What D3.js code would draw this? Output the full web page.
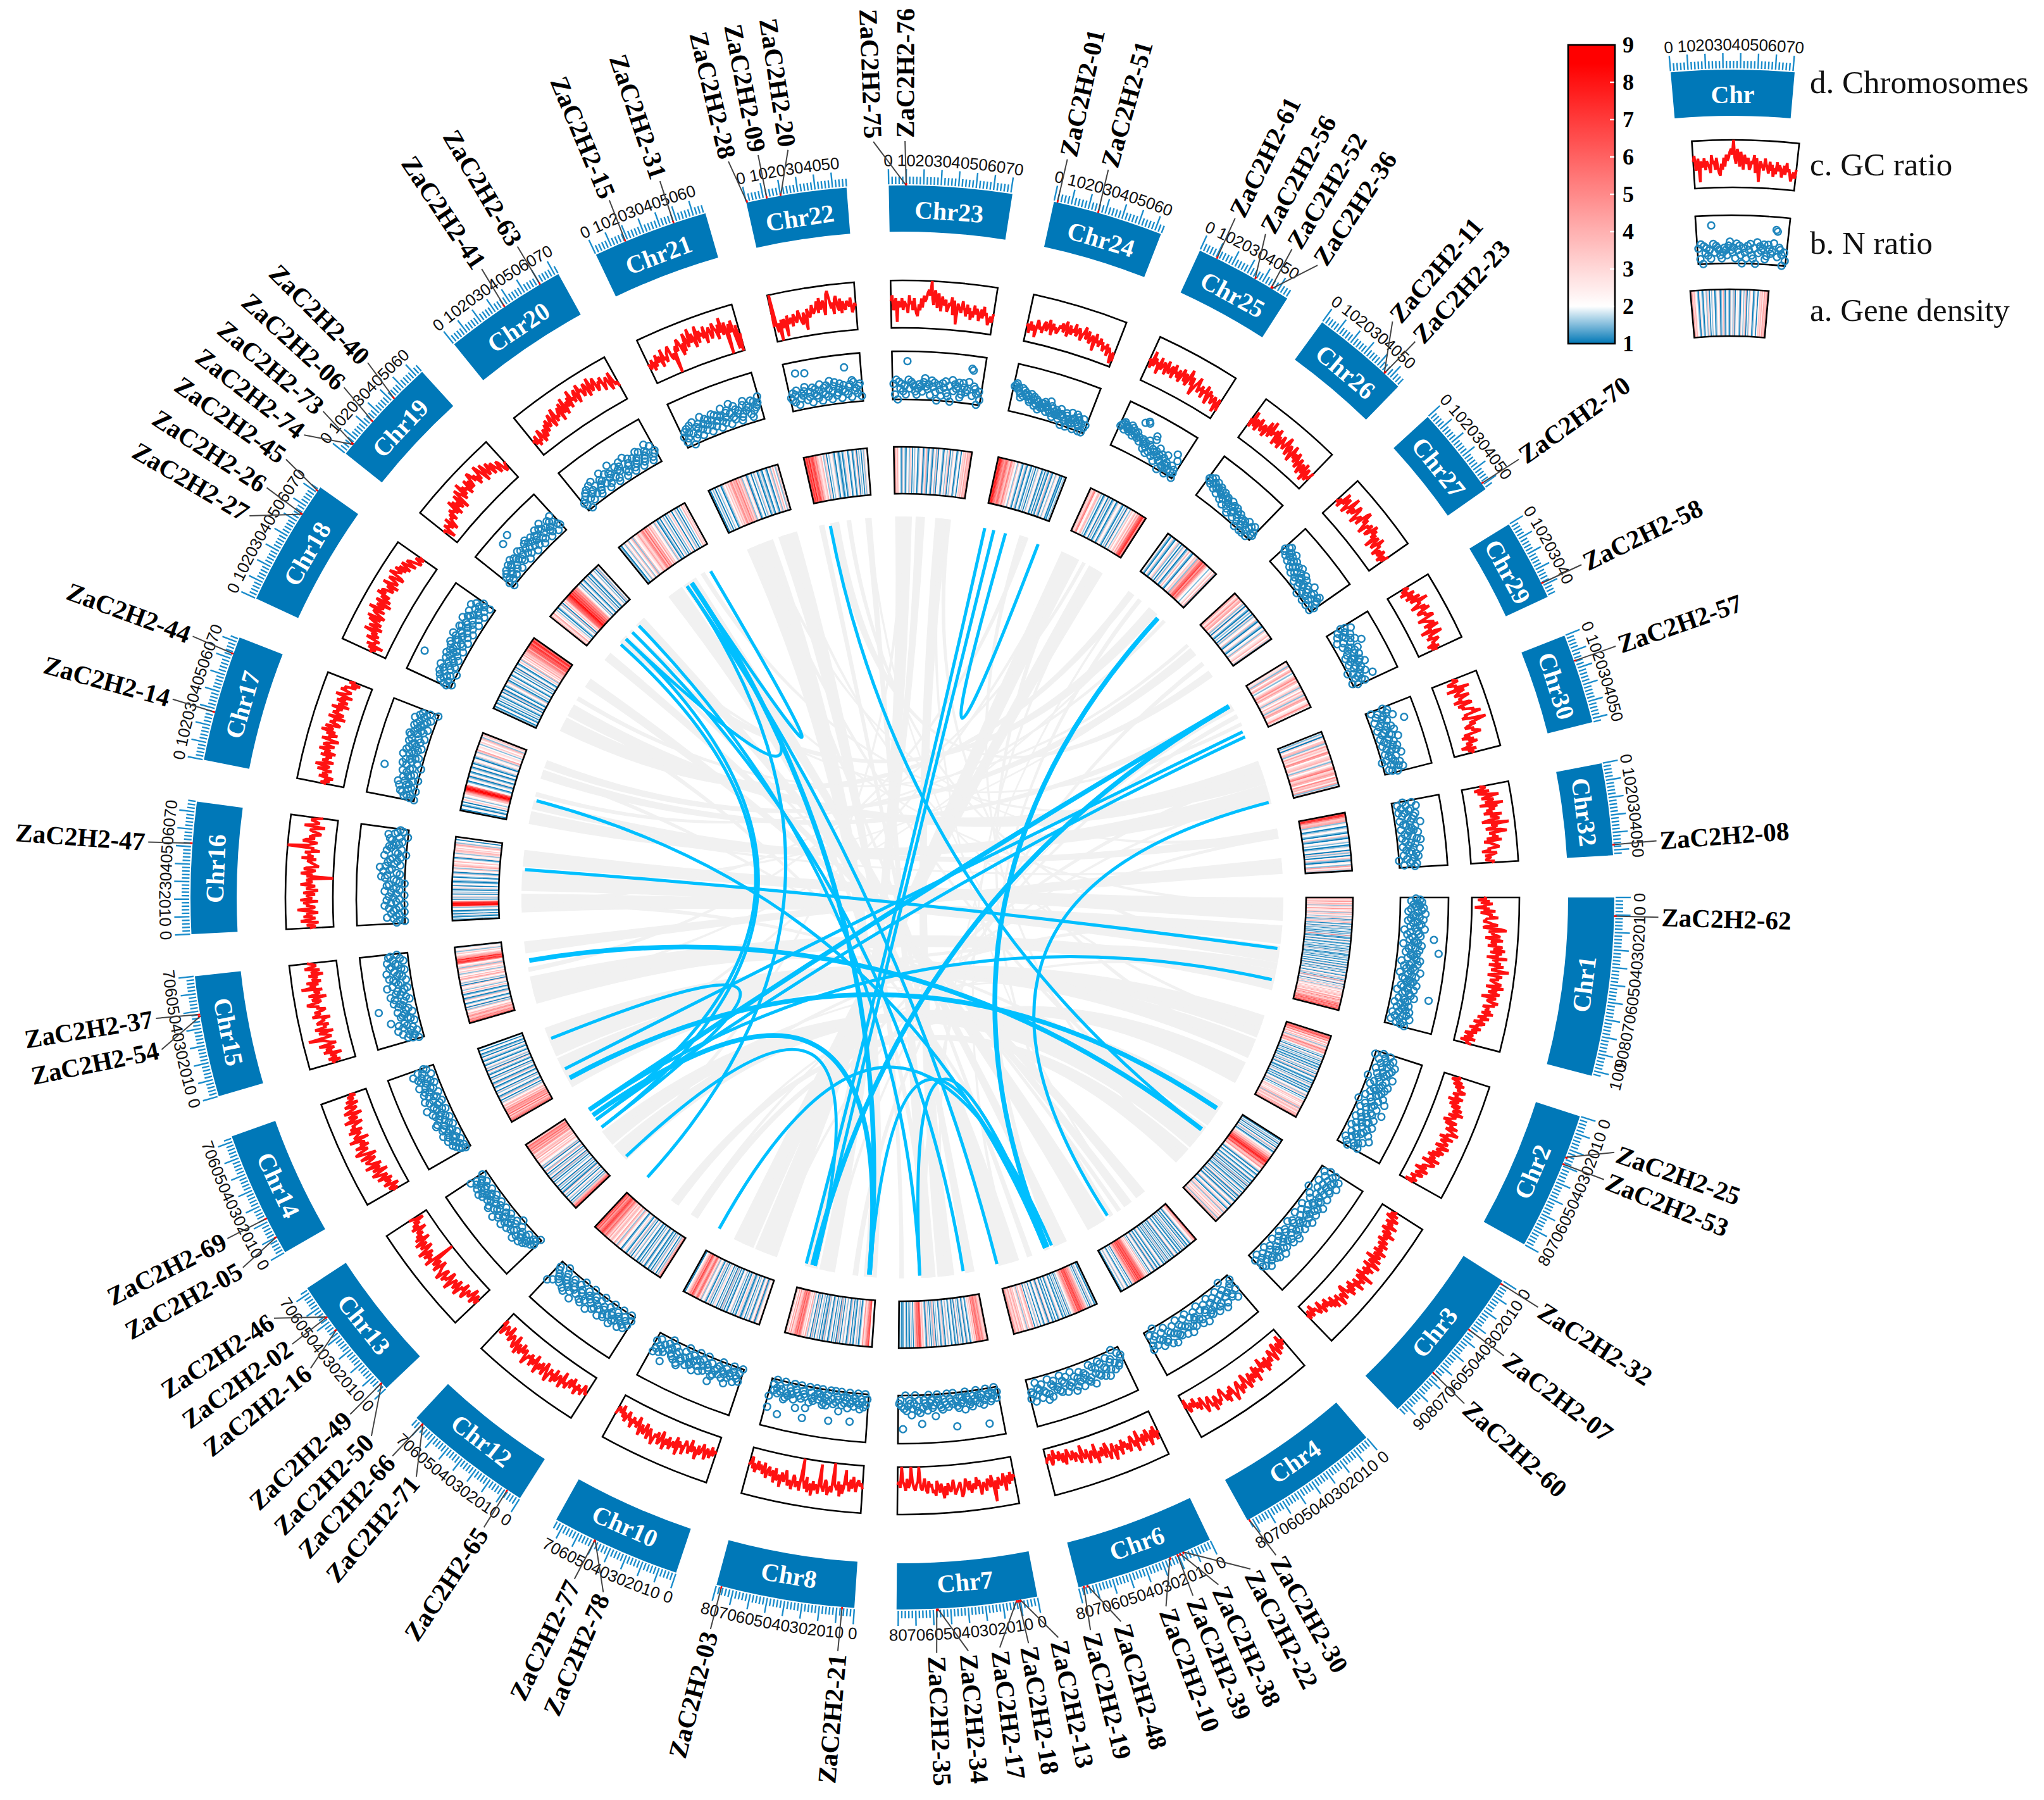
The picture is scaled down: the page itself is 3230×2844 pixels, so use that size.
<!DOCTYPE html>
<html><head><meta charset="utf-8">
<script src="https://cdn.jsdelivr.net/npm/d3@7/dist/d3.min.js"></script>
<style>html,body{margin:0;background:#fff}svg{display:block}</style></head>
<body><svg id="c" width="3230" height="2844"></svg>
<script>
const chromosomes=[1,2,3,4,6,7,8,10,12,13,14,15,16,17,18,19,20,21,22,23,24,25,26,27,29,30,32];
const chrLengths=[103,80,95,83,80,81,80,75,75,73,73,70,76,73,73.5,64,72,67,58,71,64,57,57,53,47,52,53];
// GC ratio per chromosome, one letter per window
const gcRatio=[
"jkhlimjkgljnikmlokkjlmokjprlnmopknqmnolqpnrmqoplsnpoqmrpontqomrpqnoprqmsoqnprolqpnorpqmoonpmqnolpmnkonlmjnlkmijlkimhkjl",
"klikmjnkmlonkmlojnmkolnpmnqlonmkplonqmoprnolqnmopnlqomnplokmnlpjmonlkmilnkjmlikjlhk",
"lkjmiknljmkoljmnkplnmkonlpmnolqnmpokqnmprlonqmpnolsnmqopmrnolpmqnoklpnmoqlnmpkolnjmklnikmljkhlkilj",
"kjlhmkjnlikomkjnlmokplnmjomnlqkonmplnqomkpnoqlmoprnlomqnpmklonpmlqnoklnpmjlnkmilkjmlhk",
"nmpkolnqmkonlpmnjqmolknpmolnkpmnloqkmnpljomknlmpinlkmojlmkhnlkjmikljhkmiljhkijgklhjik",
"mlnkolmqkmonlpmtnkomlpnmoqlnkomnplomknpqlmnopkmonlpmqnlomkpnolmkonjlnmfklnmkelmjnlkfmkl",
"nlmklomjnkolmhnpmqlonmfpnoqmlpongqonpmrnoqlpnmfqonpmlqonpmkonlqmnokplmnklomjnlkmjlnkmikl",
"lkmjnlkoljmnkpmlnjomlkpmnlqkomnplomqnkoplnmqonlpmkonlpmjnlmkolmjlnkmilkjm",
"lmkjnlmkolmjnklomnjpmlnokpmnlqomkpnlomqnkomplnmoqlmnkonlpmjonlkmnilmkjlnik",
"kmjlnikmlkonjmlpnkomlnqmkonplmqonmkpnlomfqnomplnqmkonlpmjolnkmlinkmjlhkm",
"ljmkinlkmjolknpmjomlqknopmlqnkorpmnqlomnrkponmqlpnomkqnlomjpnlkomjnlkmjl",
"mnkolmnjpmolnqkmnotlmnpkoqmnlpomnkqonpmlonqrnmpokqnmolsnpmqlonmpkonlqomnp",
"nlomkqnlpmoknrmlonpkqmnolpmkonlqnmonfomqnlpoklmnolqmonpknmvonlqpmonklnomjqnlmonk",
"lnkmjolnmkpmlqnkomnlpkomqnlpomkqnolpmrnoqlmpnokqmlpnomqkonlpmokqnmlpnokmjnl",
"kljmhnkljomknlqmkpnloqmrlnpqmsonqlprmoqnsprqnoqmspnorqmnsqpornqmoqnlpomklnkm",
"kljhmkljnikmlnkomnlqkpmolqnkrpomsnqopmrnqnpsroqmpnsqolrpmnqolpnmkonkjlm",
"kljmikjnlikmjlnkomlnpmkoqlnmopkqnmrlopnqmsopnqrmospqnorqmpsnoqrmnpoqlnopmkqnlmk",
"mklnjmkolnmjplmknoplkmfnomqpnkolrpmosnqolpsmqopnrlopqmnrpolqnsmoqfnpmqlgofl",
"kylilfmjmlgnklmjnmklomkjnlhomlnpmnoqmrnpqlostqnplqrnmqlpnmponqlmon",
"oqlnphonmplonmkqnolpmkjnlpmqoprsqvpnsqmrolqonplmonqkplhonmlpnmkolnjmkolnmjlnkolmkikljm",
"klimjlkhnmkljmnklomjnlmklnmolnpkmolnmplmonkmnplmoklnmiolmknlmjlkmilkjgkh",
"mnkqlomnjplmonkpmlnokpmnlokmpnlokmqnloikmnpkmlnjmlokinlmjkmlhkmi",
"nkqmloknpmlnokmqnlrmonpkqlomkpnmloqmkonljpmlnkomjlnkimljnhkmikjm",
"mlnkqmopkmnrlomnqpkmnolqrnpmkonplmqnpmojnolkpmnjlmknljmkn",
"lnkmjolnkpmlrnomkpnqmlonpqkmnoplqmnjoqlmkonlmjnkm",
"mnoklnmrjpnmlqomnkpqlnmoqpsmnlotqnpmlonpqkmjnlokmlinkml",
"lnmjokmrnlpomskqnpmolrnpqmktnpolqsmonplqkmnoplmjonkmlknm"];
// N ratio per chromosome, one letter per window
const nRatio=[
"fhdigehfjdicgkefhdjcgeihdfkbgdhcieqdgfhbjegdiuchefgdhjbfiecgdhfkbegicdfhegjcdfibegdhsjcegfbdhfcegidbhfcjebgdfh",
"cfadhbegcjfdibhegcfkdahecgjbfidehcgfjbdhleagcfidbmghecfjdbhgekcfibdhkgcemfdjbhfcgid",
"dgbfjchegkbdfhicegajdfbhgckefidhbjegcfhkdbigefjcdhbgeikfcdhjbgecfidhbkegfcjdibgehcfjdbhegc",
"bfcjdgheacfidkbgehcjfdbgihcefkdbhjgcefidhbkgcfjedbihgcfkedjbghcfieacgdbfh",
"cdbfgaehcdgbjfeicbhgdfckbgihedfjcgeidkbfhgcjedbihfgcedjbhkgfciedbgjfeh",
"bdacbdebcaqdfbcebadcbfdecbagcbdbfecpadcbeadcbfedbacidebcafdcbemgbfdacehcbdfaepdbc",
"bdaecbfdacbecmdafbcdbeahcbdaecnadbfcefacbdbacedbfaiodcbeadjcbfadcbedfgapcdbecadbmg",
"aebdcfbadcehbdfcaebcdfgjbedcafdbgceachdbfecgadbfeihcdgbfecadbkfcegdbfhc",
"bdafcebgdacebfhdcaebgfdcheabdfgcbeidacfbhegdcafbjedgcbfiehdcbgafedhcbj",
"acbdbcedfbcgedcfhbdeafcbgdecfhbdecgfbidecfbdhgcebfdcegbfhdcegbdfcehb",
"bcdbecfdbegcdfbhecdgfbecihdbfcegdhbcejfdcbgeicdfbhegcdfibecgdhfbjegcd",
"bdfcehbdjcgeifbmcdgfebhdcsgefidbhcjegdfcbkhedfbgicedjfbchgdeibfchgd",
"cabdgcbeadcfbhaecgbdfacehbdcgfabcdhjgbcifekhbdgcfebiacdhbfgecdbfgcahedbc",
"abdcbefacbgdchebafdcbegrdcafhbdgecbifdehcgbdfehcgdbhiegcdfbhegdfcibegdfca",
"bcaebdfcbgeafchdbtecgdbfhcegdfbheicdgfbhjecfgdbihecfgdjbehgcfidbegjcfhdbe",
"badcebfcdbgefchdbgfeqdchegbsdfcheigbdfhcegfbidchegjbfdcehgbfidc",
"cbdaefcgbdhecifbcdegfjdbhcegfkdbchfegibdcjefhbcgdefibhcdegfjbchde",
"dbfcgeahdbicfegbdjfchegbdfichegbfdjceghbfkdcigefbcdhjegfcbidhefgj",
"edgcfhbrdfegicqdfbhegdcfibegdhcfjbegicdfhbegdqcfgbihdecfgb",
"fbhagdfcebshdgfecbdfecgiedfbhegcafdbgehcbfaidgefhbchfdeiqpcgfdaeb",
"klmjkihfkgjhighfeifghdegfcedfdfgecedhcfebdcecdbfcdacbedacbfcbdafcedbaceabc",
"ijklhkjijhlikgjhijgqhfsrhgfdgeicgdmkfcedfbhdecfcaebgcdbcabjdbgcba",
"ihjgkhifjgheighfdhegcgfdecgbefcdfbedcebadcbdaceabcdaebcb",
"hgjkfhigehjfgdhefcgdehcfbdegcbfdcaebdcgbadebcaefdcab",
"fhdkgceifbhdjgcmefdigcfbhdecgbfidcfaebgdcbjdaeb",
"gbidhcfkebgdqcfhbeidcfgbjecgdbfhcegdbicfdbaegcdfhbce",
"dhbejcgfbdichegbfkcdhfbgeicdfbhjcegdbficedgbhfcaedgbf"];
// gene density per chromosome, one letter per window: a=1, b=1.5, c=2 ... q=9
const geneDensity=[
"gfhdegicfhdgbefcgidfcehbdgfcebdgcaebfdhcabdcaebdacbcabdacbjcabacdbaecbabdcacbdabcaebdcabacbdacbadcbacdabcfabdcaebcadcebacdfbcaeibdcfaecbdgcbfedchcfdgehcfigdkfhegjhlgmikhnjl",
"ekjmigkdfhcgebfdhjgfiecbdacebdacbdabcabdacebdacfbadcbabcadbecabdacbadcebfdacbcegdfcedgfbhdfgedhfig",
"dacbeacbdacfbdabcdfehgkjmlonkjmhfgidcebadcabdcabceabdacbfadbcabecadbcfabdaceabdcfbacdebacfdgbdfecgdfbehc",
"hkfgdcebadcabdacebdacbadcabdcfabcadbcaebdacbadcebacdabcfabdceacbdgcfehikjmlknjmhkigfeacbdcabdcebdcab",
"cbacdbeacbdfgihkjmlkmhjigfdcbeacbdacbadcebacdacbadcfabecdabcdacebdcadhfdcgebfdcgehfdhfegif",
"dgefhjgikjhkegdfcbacdbaecbadbcfacbadcbacdbecabfdbacdbcaegbdacbdfabcegdkmljkhgdacbdabcabdcabacb",
"bdcmkjhfeidcbadbecabdacfbadcbecadbgacbdacebadcbfabdacbecadbfacdbehcfdgjkhlijgfeidhcfd",
"fdcebagcdbaecbdacebabdfcabdacbecdabcadbfacbdacedbcadbfcabecdbgdhkjgfikmhjgfdcab",
"lhfbdacebdacbadcbaecbdacbadcbecadbfcabdecbadcegbdfhcegfdhegikhjlmkjhlimk",
"mkjgfbdacbecadbcfabdacbeacdbcadbfacebdacgbdcafbdcegdfchegfdhifjgkhikfg",
"gkihfjekgihjfhdgfcebdacfbadcbeacdbacfbadcbeacdabcfadbecabdcabecadbacdacb",
"lkhjgfihegdcfbdaecbadcfbaecbadgcbedcfadbecfhdgcebdfcegbfdcimnkoihgecfdbecdb",
"abcabdacbadcbgopqmjcadbecadbcabecadcbabdcabcebadcfbdhfecgdcbaecdbefgdfcehfbdcadc",
"bacdabcadfcbdcfgjmpqnkdcbacdbaecbacdbadcabecdabecdbfhcdecbdfcegbdfe",
"cbacdabcadbcabdcaebadcabdcfbacbecabcdacbeadcbacfdbgcfdhegfhijgklkmnjmokl",
"egdfhcedbcabdcbfacgdfjklmoplnkmjkhigdcbeacdbacebdacbaecdbcafbdc",
"cbacdbecfbcdgbfcdehfegijfkgidhefcdbfcabdacebcadbcfdacebdacbcgdfc",
"bacbdacbdcabecfdgehifhgjfhegbdcfabcdacbecabdbacdbacfbdgcbfc",
"mlnkojlmkhjgfdegcbfdacbdcebacdbabcabdecabcdabcfadbcadbecd",
"fhegdcbaecbadcbfdacbdcabdceabdgbacdbaecbfacdcbaecbdgacbecdabcdacfegdhfgi",
"lnomkjhjkigfjhegdcbfcdbacebadcbacbdacbecdabcadbacfbadcbecdabacbd",
"gfehjdcfgdbcabdcaebcabdcabecdbacbdaecbdfcegdhfjkmnhl",
"cdbacebacdfbcadbecabdgcbadcfebhgjkmhkigdcbcdfcgb",
"hgdfieghcfbdaecbadbcaebdcfbadcebacdbfcdegcfb",
"fdebgcfhdbcegiehfcdfbecgdfbehgcdeifc",
"cbdaecfgbdhefdihcefgdbfcehjefhgcifgdhbe",
"knmifghbdcabdcbacfbacdbcabdcaebdacfbadcbhdfb"];
// [gene, chromosome, Mb]
const genes=[
["ZaC2H2-62",1,10.7],["ZaC2H2-25",2,25],["ZaC2H2-53",2,29],["ZaC2H2-32",3,2],["ZaC2H2-07",3,34],["ZaC2H2-60",3,66],["ZaC2H2-30",4,82],
["ZaC2H2-22",6,17],["ZaC2H2-38",6,19],["ZaC2H2-39",6,20.5],["ZaC2H2-10",6,25],["ZaC2H2-48",6,75],["ZaC2H2-19",6,77],
["ZaC2H2-13",7,10],["ZaC2H2-18",7,11],["ZaC2H2-17",7,12],["ZaC2H2-34",7,57.5],["ZaC2H2-35",7,58],
["ZaC2H2-21",8,7],["ZaC2H2-03",8,77],["ZaC2H2-78",10,50],["ZaC2H2-77",10,50],["ZaC2H2-65",12,8.6],["ZaC2H2-71",12,70],["ZaC2H2-66",12,70],
["ZaC2H2-50",13,4],["ZaC2H2-49",13,4],["ZaC2H2-16",13,44],["ZaC2H2-02",13,53],["ZaC2H2-46",13,53],["ZaC2H2-05",14,10],["ZaC2H2-69",14,22],
["ZaC2H2-54",15,47],["ZaC2H2-37",15,48],["ZaC2H2-47",16,52],["ZaC2H2-14",17,28],["ZaC2H2-44",17,63],
["ZaC2H2-27",18,55],["ZaC2H2-26",18,55],["ZaC2H2-45",18,71],["ZaC2H2-74",19,6.7],["ZaC2H2-73",19,7],["ZaC2H2-06",19,24],["ZaC2H2-40",19,42],
["ZaC2H2-41",20,36],["ZaC2H2-63",20,60],["ZaC2H2-15",21,18.5],["ZaC2H2-31",21,48],["ZaC2H2-28",22,0.5],["ZaC2H2-09",22,12],["ZaC2H2-20",22,20],
["ZaC2H2-75",23,10],["ZaC2H2-76",23,10],["ZaC2H2-01",24,2],["ZaC2H2-51",24,26],
["ZaC2H2-61",25,10.7],["ZaC2H2-56",25,35.5],["ZaC2H2-52",25,46],["ZaC2H2-36",25,46.5],["ZaC2H2-11",26,46],["ZaC2H2-23",26,46],
["ZaC2H2-70",27,49],["ZaC2H2-58",29,38.5],["ZaC2H2-57",30,15.5],["ZaC2H2-08",32,47]];
// where each gene's label sits around the ring, degrees clockwise from 12 o'clock, same order as genes
const labelBearing=[91.5,109.7,111.9,122.8,127.3,132,150.4,152.6,155.3,157.4,159.6,163.2,165.6,168.1,170.4,172.6,175,177.4,184.9,194.7,203.3,205.7,213.6,220,222.4,224.6,226.9,231.5,233.8,236.2,240.7,243.2,258.4,260.8,274.2,285.2,290.2,300.3,302.8,305.4,307.7,310,312.4,315,326.2,329.4,337.2,341.3,346.7,349,351.3,357.8,0.2,12.6,15.8,26.1,28.7,31,33.3,40.4,42.7,54.6,63.9,70.6,85.7];
// duplicated ZaC2H2 pairs: [chrA, Mb, chrB, Mb]
const thinLinks=[[22,12,3,37],[24,2,8,77],[24,25,24,62],[29,40,14,21],[29,46,13,54],[30,50,4,56],[16,51,1,55],[1,89,13,67],[17,26,6,25],[10,74,6,17],[12,70,20,31],[13,54,19,24],[13,44,19,32],[14,57,13,44],[20,61,20,37],[19,32,20,31],[19,52,7,59],[19,42,7,12],[20,31,6,79],[7,59,6,22],[8,8,6,25],[13,3,8,67],[24,12,8,67]];
const boldLinks=[[26,45,6,22],[29,9,13,67],[29,9,8,70],[3,9,14,10],[15,47,3,37],[20,37,8,8],[13,60,8,8]];
// collinear blocks: [chrA, Mb0, Mb1, chrB, Mb0, Mb1]
const syntenyBlocks=[[16,5,25,1,30,50],[16,28,50,1,52,70],[16,54,72,1,0,25],[15,0,30,1,78,100],[15,55,68,32,35,52],[14,0,35,2,1,26],[14,37,70,2,28,50],[13,0,20,3,0,30],[13,22,40,3,32,60],[12,0,8,2,55,80],[12,25,35,3,62,82],[10,5,30,25,0,21],[10,32,55,25,33,50],[8,45,62,23,0,18],[8,64,78,23,22,32],[7,22,40,23,43,57],[7,42,58,22,50,57],[8,0,14,21,10,40],[7,76,81,21,46,67],[7,0,10,22,0,6],[6,55,78,20,8,26],[6,0,12,20,28,44],[4,60,82,19,50,62],[4,8,20,18,62,73],[4,26,36,19,0,10],[18,8,24,26,2,10],[18,26,40,30,4,28],[17,0,14,30,30,52],[17,16,26,32,3,14],[17,50,60,29,8,16],[17,62,71,27,11,21],[19,25,35,26,30,42],[22,12,22,27,42,50],
[20,10,14,1,6,10],[21,20,25,3,40,46],[23,5,9,13,5,10],[25,5,9,14,15,20],[26,35,38,15,10,14],[27,15,18,16,40,44],[30,10,14,18,30,34],[32,40,44,17,5,9],[2,8,12,21,50,54],[3,50,54,22,52,55],[4,30,33,23,48,52],[6,60,64,25,40,44],[7,28,32,26,5,8],[8,50,54,29,12,15],[10,10,14,30,40,44],[12,28,32,1,85,90],[13,30,34,2,15,19],[14,50,54,3,10,14],
[20,30,38,7,45,52],[21,12,18,6,40,46],[18,30,36,6,20,26],[19,28,33,4,40,45],[17,55,60,4,12,16],[16,10,16,3,20,26],[15,5,12,2,35,42],[14,20,26,1,70,78],[13,10,16,1,30,36],[12,5,9,32,10,14],[10,40,46,30,15,21],[8,20,26,29,20,25],[7,50,56,27,30,35],[6,10,16,26,15,20],[4,50,55,25,10,16],[3,70,75,24,40,45],[2,40,46,23,55,60],[1,60,66,22,30,35],[32,5,9,21,30,34],[30,25,30,20,50,55],[29,30,34,19,40,44],[27,5,9,18,45,50],[26,50,54,17,30,35],[25,25,29,16,15,20],[24,45,50,15,35,40]];
const colorbarTicks=[1,2,3,4,5,6,7,8,9];
const legendItems=["d. Chromosomes","c. GC ratio","b. N ratio","a. Gene density"];

const svg=d3.select("#c");
const rad=d=>d*Math.PI/180, SERIF='"Liberation Serif",serif', SANS='"Liberation Sans",sans-serif';
const R={chord:602,blue:598,dens:[638,712],n:[787,863],gc:[900,975],band:[1052,1125],label:1200};
const BLUE="#0078b8",TICK="#1a8ccb",RED="#ff1212",CYAN="#00bfff";
const heat=d3.scaleLinear().domain([1,2,8.5,9]).range(["#0077b6","#ffffff","#ff0000","#ff0000"]);
const gap=3.4,perMb=(360-gap*chromosomes.length)/d3.sum(chrLengths);
let cursor=90;
const sectors=chromosomes.map((c,i)=>{const a0=cursor,a1=a0+chrLengths[i]*perMb;cursor=a1+gap;
  return {chr:c,i,len:chrLengths[i],a0,a1,x:d3.scaleLinear().domain([0,chrLengths[i]]).range([rad(a0),rad(a1)])};});
const byChr=new Map(sectors.map(s=>[s.chr,s]));
const arc=d3.arc();
const polar=(a,r)=>d3.pointRadial(a,r);

function box(g,s,rr){g.append("path").attr("d",arc({innerRadius:rr[0],outerRadius:rr[1],startAngle:rad(s.a0),endAngle:rad(s.a1)})).attr("fill","none").attr("stroke","#000").attr("stroke-width",2.6);}
function drawDensity(g,s){
  const str=geneDensity[s.i],t=d3.scaleLinear().domain([0,str.length]).range([rad(s.a0),rad(s.a1)]);
  g.append("g").selectAll("path").data(Array.from(str)).join("path")
   .attr("d",(c,j)=>arc({innerRadius:R.dens[0],outerRadius:R.dens[1],startAngle:t(j),endAngle:t(j+1)}))
   .attr("fill",c=>heat(1+(c.charCodeAt(0)-97)/2)).attr("stroke",c=>heat(1+(c.charCodeAt(0)-97)/2)).attr("stroke-width",.3);
  box(g,s,R.dens);
}
function drawN(g,s){
  const str=nRatio[s.i],t=d3.scaleLinear().domain([0,str.length-1]).range([rad(s.a0)+.002,rad(s.a1)-.002]),r=d3.scalePow().exponent(.7).domain([0,25]).range(R.n);
  box(g,s,R.n);
  g.append("g").selectAll("circle").data(Array.from(str)).join("circle")
   .attr("transform",(c,j)=>`translate(${polar(t(j),r(c.charCodeAt(0)-97))})`).attr("r",5.4)
   .attr("fill","none").attr("stroke","#1f86bd").attr("stroke-width",2.5);
}
function drawGC(g,s){
  const str=gcRatio[s.i],t=d3.scaleLinear().domain([0,str.length-1]).range([rad(s.a0),rad(s.a1)]),r=d3.scaleLinear().domain([5,21]).range(R.gc).clamp(true);
  box(g,s,R.gc);
  g.append("path").attr("d",d3.lineRadial().angle((c,j)=>t(j)).radius(c=>r(c.charCodeAt(0)-97))(Array.from(str)))
   .attr("fill","none").attr("stroke",RED).attr("stroke-width",4.4).attr("stroke-linejoin","bevel");
}
function flipRot(deg){deg=((deg%360)+360)%360;return (deg>=90&&deg<270)?deg-180:deg;}
function drawBand(g,s,name){
  g.append("path").attr("d",arc({innerRadius:R.band[0],outerRadius:R.band[1],startAngle:rad(s.a0),endAngle:rad(s.a1)})).attr("fill",BLUE);
  const mid=(s.a0+s.a1)/2,p=polar(rad(mid),1086);
  g.append("text").attr("transform",`translate(${p}) rotate(${flipRot(mid)})`).attr("text-anchor","middle").attr("dy",".34em")
   .attr("font-family",SERIF).attr("font-weight","bold").attr("font-size",40).attr("fill","#fff").text(name);
  const mbs=d3.range(0,s.len+.01,2);
  g.append("g").selectAll("line").data(mbs).join("line")
   .each(function(m){const a=s.x(m),e=m%10===0?1151:1139,p0=polar(a,1127),p1=polar(a,e);
     d3.select(this).attr("x1",p0[0]).attr("y1",p0[1]).attr("x2",p1[0]).attr("y2",p1[1]);})
   .attr("stroke",TICK).attr("stroke-width",2.4);
  g.append("g").selectAll("text").data(mbs.filter(m=>m%10===0)).join("text")
   .attr("transform",m=>{const a=s.x(m);return `translate(${polar(a,1165)}) rotate(${flipRot(a*180/Math.PI)})`;})
   .attr("text-anchor","middle").attr("dy",".36em").attr("font-family",SANS).attr("font-size",26).attr("fill","#111").text(m=>m);
}

// ---- chart
const root=svg.append("g").attr("transform","translate(1426,1418)");
const gl=root.append("g");
const ribbon=d3.ribbon().radius(R.chord);
gl.selectAll("path.g").data(syntenyBlocks).join("path").attr("class","g")
  .attr("d",b=>{const A=byChr.get(b[0]),B=byChr.get(b[3]);
    return ribbon({source:{startAngle:A.x(b[1]),endAngle:A.x(b[2])},target:{startAngle:B.x(b[4]),endAngle:B.x(b[5])}});})
  .attr("fill","#f1f1f1");
const thread=d3.ribbon().radius(R.blue);
function linkPath(l){const A=byChr.get(l[0]).x(l[1]),B=byChr.get(l[2]).x(l[3]);
  return thread({source:{startAngle:A,endAngle:A},target:{startAngle:B,endAngle:B}});}
gl.selectAll("path.t").data(thinLinks).join("path").attr("class","t").attr("d",linkPath).attr("fill","none").attr("stroke",CYAN).attr("stroke-width",5);
gl.selectAll("path.b").data(boldLinks).join("path").attr("class","b").attr("d",linkPath).attr("fill","none").attr("stroke",CYAN).attr("stroke-width",7.5);
sectors.forEach(s=>{const g=root.append("g");drawDensity(g,s);drawN(g,s);drawGC(g,s);drawBand(g,s,"Chr"+s.chr);});

// ---- gene labels
const gg=root.append("g");
genes.forEach((d,i)=>{
  const s=byChr.get(d[1]),a=s.x(d[2]),b=labelBearing[i];
  const p0=polar(a,R.band[1]),p1=polar(rad(b),R.label-5),m=polar(a,R.band[1]+4);
  gg.append("line").attr("x1",p0[0]).attr("y1",p0[1]).attr("x2",p1[0]).attr("y2",p1[1]).attr("stroke","#444").attr("stroke-width",2);
  gg.append("line").attr("x1",p0[0]).attr("y1",p0[1]).attr("x2",m[0]).attr("y2",m[1]).attr("stroke","#f00").attr("stroke-width",2.6);
  const left=b>180;
  gg.append("text").attr("transform",`rotate(${b-90}) translate(${R.label},0)`+(left?" rotate(180)":""))
    .attr("text-anchor",left?"end":"start").attr("dy",".34em").attr("font-family",SERIF).attr("font-weight","bold").attr("font-size",41).attr("fill","#000").text(d[0]);
});

// ---- legend
const defs=svg.append("defs");
const lg=defs.append("linearGradient").attr("id","cb").attr("x1",0).attr("x2",0).attr("y1",1).attr("y2",0);
d3.range(1,9.01,.25).forEach(v=>lg.append("stop").attr("offset",(v-1)/8).attr("stop-color",heat(v)));
const cbY=d3.scaleLinear().domain([1,9]).range([543,71]);
const leg=svg.append("g");
leg.append("rect").attr("x",2478).attr("y",71).attr("width",74).attr("height",472).attr("fill","url(#cb)").attr("stroke","#000").attr("stroke-width",2.6);
leg.selectAll("line.t").data(colorbarTicks.slice(1,-1)).join("line").attr("class","t").attr("x1",2544).attr("x2",2551).attr("y1",cbY).attr("y2",cbY).attr("stroke","#fff").attr("stroke-width",2.4);
leg.selectAll("text.t").data(colorbarTicks).join("text").attr("class","t").attr("x",2564).attr("y",cbY).attr("dy",".34em").attr("font-family",SERIF).attr("font-weight","bold").attr("font-size",36).text(d=>d);
const s23=byChr.get(23),mid23=(s23.a0+s23.a1)/2;
const mk=(cx,cy,tilt)=>svg.append("g").attr("transform",`translate(${cx},${cy}) rotate(${-mid23+tilt})`);
drawBand(mk(2738,1235,0),s23,"Chr");
drawGC(mk(2738,1196,1.2),s23);
drawN(mk(2736,1203,1.2),s23);
drawDensity(mk(2733,1169,0),s23);
leg.selectAll("text.l").data(legendItems).join("text").attr("class","l").attr("x",2860).attr("y",(d,i)=>[147,277,401,507][i])
   .attr("font-family",SERIF).attr("font-size",51).attr("fill","#111").text(d=>d);
</script></body></html>
